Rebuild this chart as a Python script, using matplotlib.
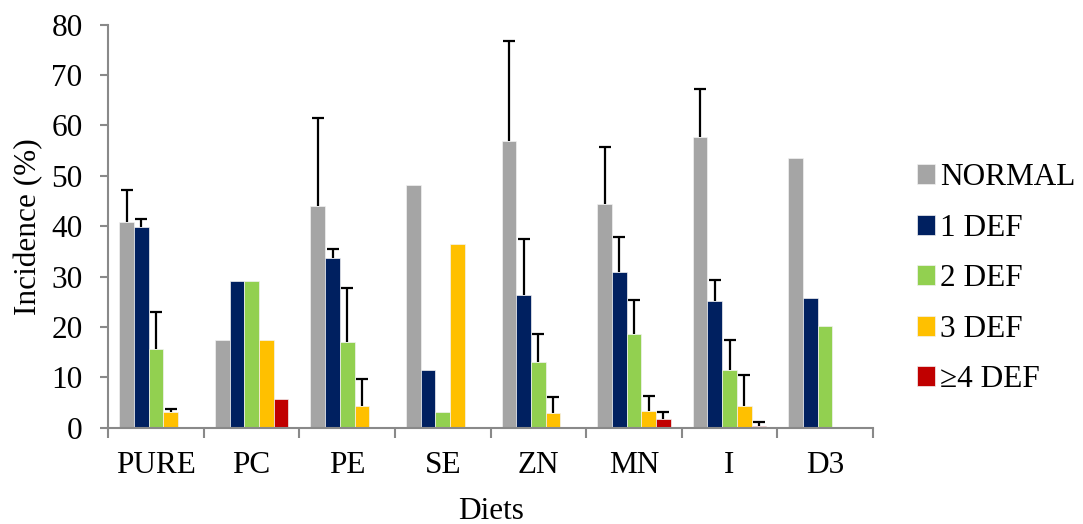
import matplotlib
matplotlib.use("Agg")
import matplotlib.pyplot as plt
import numpy as np

categories = ["PURE", "PC", "PE", "SE", "ZN", "MN", "I", "D3"]
series_names = ["NORMAL", "1 DEF", "2 DEF", "3 DEF", "\u22654 DEF"]

normal = [40.8, 17.5, 44.1, 48.2, 57.0, 44.4, 57.8, 53.6]
def1 = [39.9, 29.2, 33.7, 11.5, 26.3, 31.0, 25.2, 25.8]
def2 = [15.6, 29.2, 17.1, 3.1, 13.0, 18.6, 11.5, 20.3]
def3 = [3.1, 17.5, 4.4, 36.5, 2.9, 3.3, 4.4, 0.0]
def4 = [0.0, 5.7, 0.0, 0.0, 0.0, 1.7, 0.3, 0.0]

# upper error (SD) values; 0 = no error bar
err_normal = [6.4, 0.0, 17.4, 0.0, 19.8, 11.4, 9.4, 0.0]
err_def1 = [1.6, 0.0, 1.7, 0.0, 11.1, 6.8, 4.1, 0.0]
err_def2 = [7.4, 0.0, 10.6, 0.0, 5.6, 6.7, 6.0, 0.0]
err_def3 = [0.7, 0.0, 5.3, 0.0, 3.2, 3.0, 6.0, 0.0]
err_def4 = [0.0, 0.0, 0.0, 0.0, 0.0, 1.5, 0.8, 0.0]

values = [normal, def1, def2, def3, def4]
errors = [err_normal, err_def1, err_def2, err_def3, err_def4]
colors = ["#A5A5A5", "#002060", "#92D050", "#FFC000", "#C00000"]

plt.rcParams["font.family"] = ["Liberation Serif", "DejaVu Serif"]
FS = 22.5

fig = plt.figure(figsize=(10.83, 5.24), dpi=100)
ax = fig.add_axes([0.1, 0.1835, 0.706, 0.7695])

x = np.arange(len(categories))
w = 0.154
for i, (vals, errs, c, name) in enumerate(zip(values, errors, colors, series_names)):
    pos = x + (i - 2) * w
    ax.bar(pos, vals, width=w, color=c, edgecolor="#F2F2F2", linewidth=0.5, label=name, zorder=2)
    errs = np.array(errs)
    mask = errs > 0
    if mask.any():
        lower = np.zeros(mask.sum())
        cont = ax.errorbar(pos[mask], np.array(vals)[mask], yerr=[lower, errs[mask]],
                           fmt="none", ecolor="black", elinewidth=1.6, capsize=4.3,
                           capthick=1.6, zorder=3)
        caplines = cont[1]
        if len(caplines) == 2:
            caplines[0].set_visible(False)

ax.set_xlim(-0.5, len(categories) - 0.5)
ax.set_ylim(0, 80)
ax.set_yticks(np.arange(0, 81, 10))
ax.set_xticks(x)
ax.set_xticklabels(categories)
ax.set_xticks(np.arange(-0.5, len(categories)), minor=True)

spine_color = "#898989"
for s in ["top", "right"]:
    ax.spines[s].set_visible(False)
for s in ["left", "bottom"]:
    ax.spines[s].set_color(spine_color)
    ax.spines[s].set_linewidth(1.5)

ax.tick_params(axis="y", which="major", direction="out", length=5.5, width=1.5,
               color=spine_color, labelsize=FS, pad=13)
ax.tick_params(axis="x", which="major", length=0, labelsize=FS, pad=17)
ax.tick_params(axis="x", which="minor", direction="out", length=7, width=1.5,
               color=spine_color)

ax.set_ylabel("Incidence (%)", fontsize=FS, labelpad=6)
ax.set_xlabel("Diets", fontsize=FS, labelpad=12)

leg = ax.legend(loc="upper left", bbox_to_anchor=(1.0, 0.765), frameon=False,
                fontsize=FS, handlelength=0.6, handleheight=0.6, handletextpad=0.15,
                labelspacing=0.69, borderaxespad=1.0)

fig.savefig("out.png", dpi=100)
